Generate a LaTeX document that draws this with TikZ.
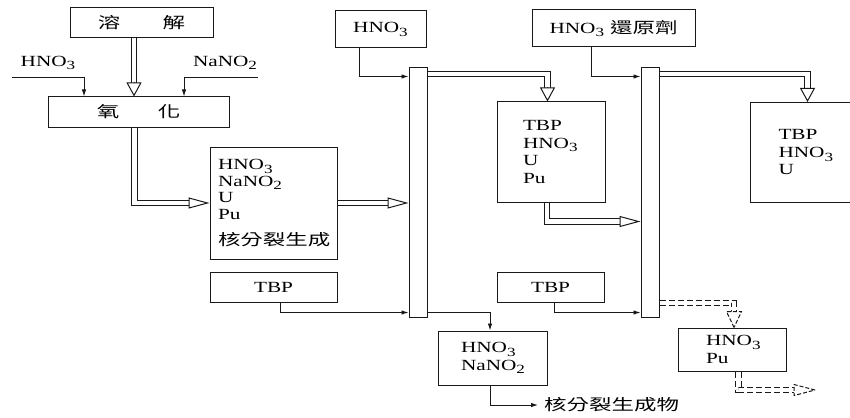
\documentclass[tikz,border=0pt]{standalone}
\usepackage{fontspec}
\setmainfont{Liberation Serif}[FakeStretch=1.37]
\newfontfamily\cjk{Noto Sans CJK TC}[FakeStretch=1.45]
\usetikzlibrary{arrows.meta,calc}
\newcommand\sub[1]{\raisebox{-3.5pt}{\fontsize{12.5}{12.5}\selectfont #1}}
\begin{document}
\begin{tikzpicture}[x=1pt,y=-1pt,
  every node/.style={font=\fontsize{15.5}{17.5}\selectfont, inner sep=0pt, text=black},
  box/.style={draw=black!90, line width=1pt},
  colm/.style={draw=black!90, line width=1pt, minimum width=18pt, minimum height=249pt},
  arr/.style={draw=black!90, line width=0.9pt, -{Latex[length=7pt,width=4.5pt]}},
  dbl/.style={draw=black!90, line width=1pt, double=white, double distance=4.6pt},
  dbldash/.style={dbl, dash pattern=on 6pt off 3pt},
  tipV/.style={draw=black!90, line width=1pt, -{Triangle[fill=white,length=14pt,width=15pt]}},
  tipH/.style={draw=black!90, line width=1pt, -{Triangle[fill=white,length=21pt,width=11pt]}},
  dashtip/.style={draw=black!90, line width=1pt, fill=white, dash pattern=on 4pt off 2pt},
]
\useasboundingbox (0,0) rectangle (850,417);

% dissolution and oxidation
\node[box, minimum width=143pt, minimum height=30pt] (dis) at (141.5,23) {\cjk 溶\hspace{42.5pt}解};
\node[box, minimum width=181pt, minimum height=30pt] (ox) at (138.5,112) {\cjk 氧\hspace{38.5pt}化};
\node (hl) at (48,63) {HNO\sub3};
\node (nl) at (225,63) {NaNO\sub2};
\coordinate (h0) at (12,77);
\coordinate (n0) at (258,77);
\draw[arr] (h0) -| ($(ox.north)+(-54.5,0)$);
\draw[arr] (n0) -| ($(ox.north)+(45.5,0)$);
\coordinate (a1) at ($(ox.north)+(-4.5,0)$);
\draw[dbl, shorten >=10pt] ($(dis.south)+(-7.5,0)$) -- (a1);
\draw[tipV] ($(a1)+(0,-14)$) -- (a1);

% feed
\node[box, align=left, text width=111pt, inner xsep=8pt, minimum height=112pt,
      font=\fontsize{15.5}{16.7}\selectfont] (feed) at (273.5,203)
      {HNO\sub3\\NaNO\sub2\\U\\Pu\\[9pt]{\cjk 核分裂生成}};
\coordinate (a2) at (feed.west);
\draw[dbl, shorten >=16pt] ($(ox.south)+(-4,0)$) |- (a2);
\draw[tipH] ($(a2)+(-21,0)$) -- (a2);

\node[box, minimum width=127pt, minimum height=30pt] (t1) at (273.5,287) {TBP};
\node[colm] (c1) at (418,192.5) {};
\coordinate (a3) at (feed.east -| c1.west);
\draw[dbl, shorten >=16pt] (feed.east) -- (a3);
\draw[tipH] ($(a3)+(-21,0)$) -- (a3);
\draw[arr] ($(t1.south)+(6.5,0)$) |- ($(c1.south west)+(0,-5)$);

\node[box, minimum width=91pt, minimum height=37pt] (hn) at (380.5,29.5) {HNO\sub3};
\draw[arr] ($(hn.south)+(-21.5,0)$) |- ($(c1.north west)+(0,9)$);

\node[box, align=left, text width=56pt, inner xsep=26pt, minimum height=100pt] (b2) at (551,152)
      {TBP\\HNO\sub3\\U\\Pu};
\coordinate (a4) at ($(b2.north)+(-3.5,0)$);
\draw[dbl, shorten >=10pt] ($(c1.north east)+(0,6.5)$) -| (a4);
\draw[tipV] ($(a4)+(0,-14)$) -- (a4);

% second column
\node[box, minimum width=163pt, minimum height=37pt] (hr) at (613.5,28.5) {HNO\sub3\hspace{6pt}{\cjk 還原劑}};
\node[colm] (c2) at (650,192.5) {};
\draw[arr] ($(hr.south)+(-22.5,0)$) |- ($(c2.north west)+(0,9)$);
\coordinate (a5) at ($(c2.north west)+(0,154)$);
\draw[dbl, shorten >=16pt] ($(b2.south)+(-4,0)$) |- (a5);
\draw[tipH] ($(a5)+(-21,0)$) -- (a5);

\node[box, anchor=north west, align=left, text width=56pt, inner xsep=28pt, minimum height=100pt] (b3) at (750,102)
      {TBP\\HNO\sub3\\U};
\coordinate (a6) at ($(b3.north west)+(57.5,0)$);
\draw[dbl, shorten >=10pt] ($(c2.north east)+(0,6.5)$) -| (a6);
\draw[tipV] ($(a6)+(0,-14)$) -- (a6);

\node[box, minimum width=107pt, minimum height=30pt] (t2) at (550.5,287) {TBP};
\draw[arr] ($(t2.south)+(3.5,0)$) |- ($(c2.south west)+(0,-5)$);

% raffinate
\node[box, align=left, text width=63pt, inner xsep=23pt, minimum height=54pt] (b4) at (492.5,358)
      {HNO\sub3\\NaNO\sub2};
\draw[arr] ($(c1.south east)+(0,-5)$) -| ($(b4.north)+(-2.5,0)$);
\node[anchor=west, inner xsep=6pt] (prod) at (538,405) {\cjk 核分裂生成物};
\draw[arr] ($(b4.south)+(-2.5,0)$) |- (prod.west);

% Pu product
\node[box, align=left, text width=52pt, inner xsep=28pt, minimum height=43pt] (b5) at (732,349.5)
      {HNO\sub3\\Pu};
\coordinate (a7) at ($(b5.north)+(2,0)$);
\draw[dbldash, shorten >=10pt] ($(c2.south east)+(0,-14.5)$) -| (a7);
\draw[dashtip] (a7) -- ++(-7.5,-16) -- ++(15,0) -- cycle;
\coordinate (a8) at (815,390);
\draw[dbldash, shorten >=16pt] ($(b5.south)+(6.5,0)$) |- (a8);
\draw[dashtip] (a8) -- ++(-21,-5.5) -- ++(0,11) -- cycle;
\end{tikzpicture}
\end{document}
